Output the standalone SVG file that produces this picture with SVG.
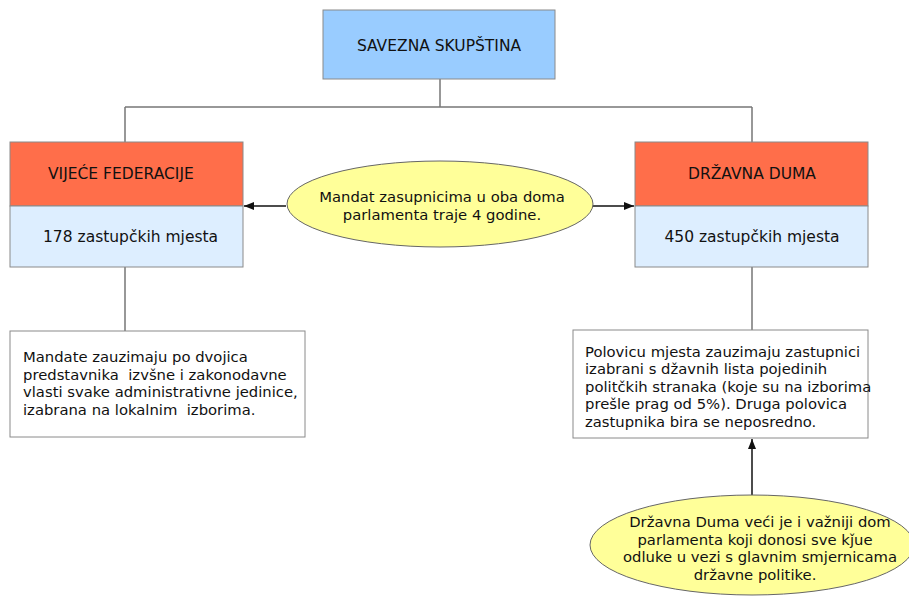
<svg xmlns="http://www.w3.org/2000/svg" width="909" height="600" viewBox="0 0 909 600">
<defs>
<marker id="ah" markerWidth="10" markerHeight="8" refX="10" refY="4" orient="auto" markerUnits="userSpaceOnUse">
<path d="M0,0 L10,4 L0,8 Z" fill="#111"/>
</marker>
<style>
.t{font-family:"DejaVu Sans","Liberation Sans",sans-serif;font-size:14.8px;fill:#111}
.h{font-size:15.5px}
.c{text-anchor:middle}
.box{stroke:#8a8a8a;stroke-width:1}
.ln{stroke:#777;stroke-width:1.5;fill:none}
.ar{stroke:#111;stroke-width:1.5;fill:none}
.ell{fill:#ffff99;stroke:#666;stroke-width:1}
</style>
</defs>
<rect width="909" height="600" fill="#fff"/>
<g id="connectors">
<path class="ln" d="M440,79 V107 M125,107 H752 M125,107 V142 M752,107 V142"/>
<path class="ln" d="M125,267 V331 M752,267 V330"/>
<path class="ar" d="M286,206 H244" marker-end="url(#ah)"/>
<path class="ar" d="M593,206 H634" marker-end="url(#ah)"/>
<path class="ar" d="M752,495 V439" marker-end="url(#ah)"/>
</g>
<g id="savezna">
<rect class="box" x="323" y="10" width="232" height="69" fill="#99ccff"/>
<text class="t h c" x="439" y="51">SAVEZNA SKUPŠTINA</text>
</g>
<g id="vijece">
<rect class="box" x="10" y="142" width="233" height="64" fill="#ff6e4a"/>
<rect class="box" x="10" y="206" width="233" height="61" fill="#ddeeff"/>
<text class="t h" x="48" y="179">VIJEĆE FEDERACIJE</text>
<text class="t h" x="43" y="242">178 zastupčkih mjesta</text>
</g>
<g id="duma">
<rect class="box" x="635" y="142" width="233" height="64" fill="#ff6e4a"/>
<rect class="box" x="635" y="206" width="233" height="61" fill="#ddeeff"/>
<text class="t h c" x="752" y="179">DRŽAVNA DUMA</text>
<text class="t h c" x="752" y="242">450 zastupčkih mjesta</text>
</g>
<g id="mandat">
<ellipse class="ell" cx="440" cy="204" rx="153" ry="43"/>
<text class="t c" x="442" y="202">Mandat zasupnicima u oba doma</text>
<text class="t c" x="442" y="220">parlamenta traje 4 godine.</text>
</g>
<g id="vijece-note">
<rect class="box" x="10" y="331" width="295" height="106" fill="#fff"/>
<text class="t" x="23" y="362">Mandate zauzimaju po dvojica</text>
<text class="t" x="23" y="380" xml:space="preserve">predstavnika  izvšne i zakonodavne</text>
<text class="t" x="23" y="397">vlasti svake administrativne jedinice,</text>
<text class="t" x="23" y="415" xml:space="preserve">izabrana na lokalnim  izborima.</text>
</g>
<g id="duma-note">
<rect class="box" x="573" y="330" width="295" height="108" fill="#fff"/>
<text class="t" x="585" y="357">Polovicu mjesta zauzimaju zastupnici</text>
<text class="t" x="585" y="374">izabrani s džavnih lista pojedinih</text>
<text class="t" x="585" y="392">politčkih stranaka (koje su na izborima</text>
<text class="t" x="585" y="409">prešle prag od 5%). Druga polovica</text>
<text class="t" x="585" y="427">zastupnika bira se neposredno.</text>
</g>
<g id="duma-ellipse">
<ellipse class="ell" cx="752" cy="545" rx="162" ry="50"/>
<text class="t c" x="760" y="527">Državna Duma veći je i važniji dom</text>
<text class="t c" x="755" y="545">parlamenta koji donosi sve kǰue</text>
<text class="t c" x="760" y="562">odluke u vezi s glavnim smjernicama</text>
<text class="t c" x="755" y="580">državne politike.</text>
</g>
</svg>
